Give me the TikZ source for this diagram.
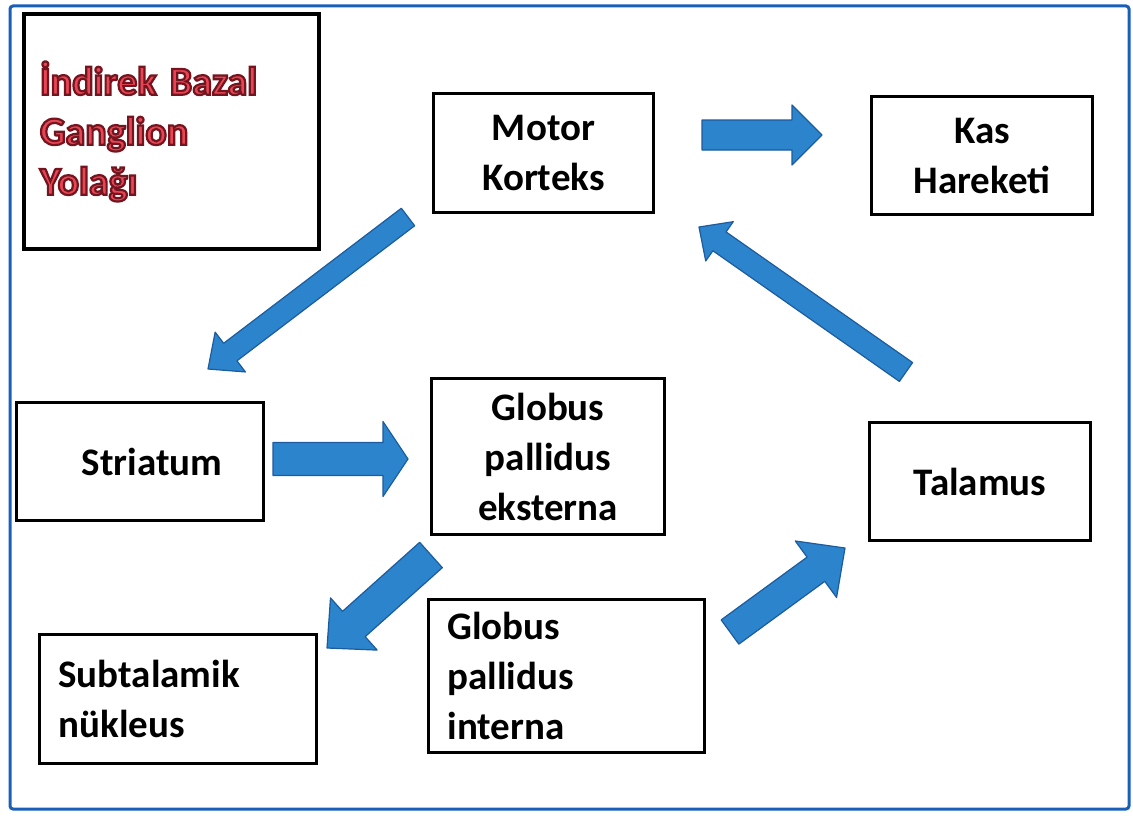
\documentclass[tikz,border=0pt]{standalone}
\usepackage{fontspec}
\setmainfont{Carlito}
\usetikzlibrary{calc}

\definecolor{frameblue}{RGB}{25,95,185}
\definecolor{arrowblue}{RGB}{44,132,204}
\definecolor{arrowedge}{RGB}{28,92,158}
\definecolor{titlered}{RGB}{232,70,84}
\newcommand{\outlined}[1]{\special{pdf:code q 2 Tr 2.2 w 0.45 0.08 0.12 RG}#1\special{pdf:code Q}}

\tikzset{
  box/.style={draw=black, line width=3pt, fill=white, inner sep=0pt, anchor=north west,
    font=\bfseries\fontsize{39}{50}\selectfont, align=center},
  leftbox/.style={box, align=left},
  fatarrow/.style={fill=arrowblue, draw=arrowedge, line width=1.2pt, line join=round},
}

\newcommand{\fatarrow}[5]{%
  \coordinate (fa-base) at ($(#2)!#5!(#1)$);
  \filldraw[fatarrow] ($(#1)!#3!90:(#2)$) -- ($(fa-base)!#3!90:(#2)$)
    -- ($(fa-base)!#4!90:(#2)$) -- (#2) -- ($(fa-base)!#4!-90:(#2)$)
    -- ($(fa-base)!#3!-90:(#2)$) -- ($(#1)!#3!-90:(#2)$) -- cycle;
}

\begin{document}
\begin{tikzpicture}[x=1pt, y=-1pt]
\useasboundingbox (0,0) rectangle (1133,816);
\draw[frameblue, line width=3pt, rounded corners=3pt] (10,6) rectangle (1129,809);

\node[leftbox, line width=4pt, minimum width=295pt, minimum height=235pt, text width=263pt,
  font=\bfseries\fontsize{40}{50}\selectfont, text=titlered] (title) at (22,12)
  {\outlined{İndirek Bazal}\\\outlined{Ganglion}\\\outlined{Yolağı}};

\node[box, minimum width=220pt, minimum height=119pt] (motor) at (432,92) {Motor\\Korteks};
\node[box, minimum width=221pt, minimum height=118pt] (kas) at (870,95) {Kas\\Hareketi};
\node[box, minimum width=247pt, minimum height=118pt] (striatum) at (15,401) {\hspace{24pt}Striatum};
\node[box, minimum width=233pt, minimum height=156pt] (gpe) at (430,377) {Globus\\pallidus\\eksterna};
\node[box, minimum width=221pt, minimum height=118pt] (talamus) at (868,421) {Talamus};
\node[leftbox, minimum width=277pt, minimum height=129pt, text width=239pt] (stn) at (38,633)
  {Subtalamik\\nükleus};
\node[leftbox, minimum width=276pt, minimum height=153pt, text width=238pt] (gpi) at (427,598)
  {Globus\\pallidus\\interna};

\coordinate (motor-out) at (702,135);
\coordinate (kas-in) at (822,135);
\coordinate (striatum-out) at (273,459);
\coordinate (gpe-in) at (408,459);
\coordinate (motor-down) at (408,217);
\coordinate (striatum-in) at (208,369);
\coordinate (talamus-up) at (906,372);
\coordinate (motor-in) at (699,227);
\coordinate (gpe-down) at (431,555);
\coordinate (stn-in) at (327,648);
\coordinate (gpi-out) at (730,632);
\coordinate (talamus-in) at (845,548);

\fatarrow{motor-out}{kas-in}{15pt}{30pt}{30pt}
\fatarrow{striatum-out}{gpe-in}{16.5pt}{37.5pt}{25pt}
\fatarrow{motor-down}{striatum-in}{11pt}{25pt}{28pt}
\fatarrow{talamus-up}{motor-in}{11.5pt}{24pt}{25pt}
\fatarrow{gpe-down}{stn-in}{17pt}{35pt}{36pt}
\fatarrow{gpi-out}{talamus-in}{15pt}{35pt}{36pt}
\end{tikzpicture}
\end{document}
